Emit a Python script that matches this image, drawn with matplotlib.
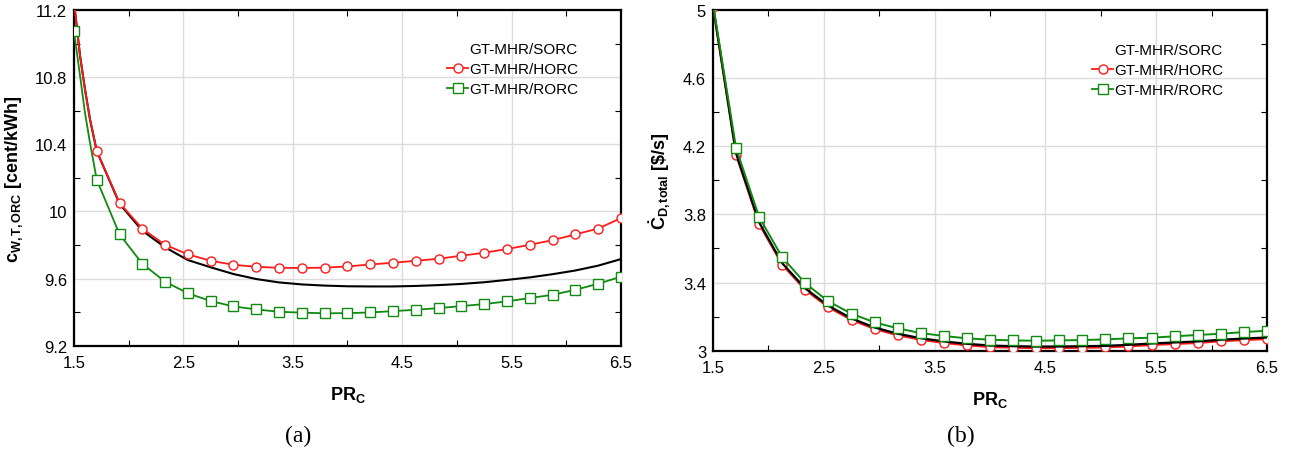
import matplotlib
matplotlib.use("Agg")
import matplotlib.pyplot as plt
from matplotlib.ticker import FixedLocator, FuncFormatter
from matplotlib.lines import Line2D

plt.rcParams['font.family'] = ['Liberation Sans', 'DejaVu Sans']
plt.rcParams['mathtext.fontset'] = 'custom'
plt.rcParams['mathtext.rm'] = 'Liberation Sans'
plt.rcParams['mathtext.bf'] = 'Liberation Sans:bold'
plt.rcParams['mathtext.it'] = 'Liberation Sans:italic'

# ---------------- data ----------------
pr_c = [1.5, 1.708, 1.917, 2.125, 2.333, 2.542, 2.75, 2.958, 3.167, 3.375, 3.583, 3.792,
        4.0, 4.208, 4.417, 4.625, 4.833, 5.042, 5.25, 5.458, 5.667, 5.875, 6.083, 6.292, 6.5]

# extra points read on the steep start of panel (a) curves
pr_c_start = [1.555, 1.6, 1.646]

# panel (a): c_W,T,ORC [cent/kWh]
a_sorc = [11.25, 10.36, 10.045, 9.885, 9.786, 9.71, 9.667, 9.627, 9.597, 9.577, 9.565, 9.558,
          9.554, 9.553, 9.553, 9.556, 9.561, 9.568, 9.578, 9.592, 9.607, 9.626, 9.648, 9.677, 9.716]
a_sorc_start = [10.93, 10.73, 10.55]
a_horc = [11.25, 10.36, 10.05, 9.897, 9.801, 9.744, 9.706, 9.682, 9.670, 9.664, 9.663, 9.665,
          9.672, 9.684, 9.694, 9.706, 9.718, 9.736, 9.754, 9.776, 9.801, 9.829, 9.863, 9.898, 9.96]
a_horc_start = [10.93, 10.73, 10.55]
a_rorc = [11.073, 10.189, 9.863, 9.688, 9.581, 9.512, 9.466, 9.434, 9.416, 9.402, 9.397, 9.393,
          9.394, 9.398, 9.406, 9.414, 9.424, 9.436, 9.448, 9.464, 9.484, 9.503, 9.533, 9.569, 9.611]
a_rorc_start = [10.81, 10.59, 10.41]

# panel (b): C_D,total [$/s]
b_sorc = [5.025, 4.158, 3.752, 3.513, 3.365, 3.263, 3.189, 3.136, 3.099, 3.073, 3.054, 3.040,
          3.030, 3.026, 3.024, 3.024, 3.026, 3.028, 3.034, 3.042, 3.048, 3.054, 3.064, 3.071, 3.077]
b_horc = [5.02, 4.149, 3.742, 3.504, 3.356, 3.254, 3.180, 3.127, 3.090, 3.064, 3.045, 3.031,
          3.021, 3.017, 3.015, 3.015, 3.017, 3.019, 3.025, 3.033, 3.039, 3.045, 3.055, 3.062, 3.068]
b_rorc = [5.035, 4.19, 3.783, 3.548, 3.395, 3.289, 3.217, 3.166, 3.131, 3.103, 3.086, 3.072,
          3.064, 3.060, 3.058, 3.060, 3.062, 3.066, 3.072, 3.076, 3.084, 3.092, 3.099, 3.109, 3.117]

labels = ['GT-MHR/SORC', 'GT-MHR/HORC', 'GT-MHR/RORC']
x_ticks = [1.5, 2.5, 3.5, 4.5, 5.5, 6.5]
x_minor = [2, 3, 4, 5, 6]
a_yticks = [9.2, 9.6, 10.0, 10.4, 10.8, 11.2]
a_yminor = [9.4, 9.8, 10.2, 10.6, 11.0]
b_yticks = [3.0, 3.4, 3.8, 4.2, 4.6, 5.0]
b_yminor = [3.2, 3.6, 4.0, 4.4, 4.8]

RED = '#ff1a1a'
GREEN = '#108a10'

fig = plt.figure(figsize=(12.91, 4.56), dpi=100)
axA = fig.add_axes([0.0573, 0.2397, 0.4237, 0.7362])
axB = fig.add_axes([0.5523, 0.2289, 0.4291, 0.7469])


def merge(xs, ys, xe, ye):
    pts = sorted(list(zip(xs, ys)) + list(zip(xe, ye)))
    return [p[0] for p in pts], [p[1] for p in pts]


def style(ax, ylim, yt, ym):
    ax.set_xlim(1.5, 6.5)
    ax.set_ylim(*ylim)
    ax.xaxis.set_major_locator(FixedLocator(x_ticks))
    ax.xaxis.set_minor_locator(FixedLocator(x_minor))
    ax.yaxis.set_major_locator(FixedLocator(yt))
    ax.yaxis.set_minor_locator(FixedLocator(ym))
    fmt = FuncFormatter(lambda v, p: '%g' % round(v, 3))
    ax.yaxis.set_major_formatter(fmt)
    ax.xaxis.set_major_formatter(fmt)
    ax.grid(True, which='major', color='#dcdcdc', lw=1.0)
    ax.set_axisbelow(True)
    ax.tick_params(which='major', length=0, labelsize=12, pad=5, colors='black')
    ax.tick_params(axis='x', which='major', pad=7)
    ax.tick_params(which='minor', direction='in', length=4, width=0.8,
                   top=True, right=True, bottom=True, left=True)
    for s in ax.spines.values():
        s.set_linewidth(1.6)
        s.set_color('black')


# ---- panel (a)
x, y = merge(pr_c, a_sorc, pr_c_start, a_sorc_start)
axA.plot(x, y, color='black', lw=1.5, zorder=3)
x, y = merge(pr_c, a_horc, pr_c_start, a_horc_start)
axA.plot(x, y, color=RED, lw=1.3, zorder=4)
axA.plot(pr_c, a_horc, ls='none', marker='o', ms=6.5, mfc='white', mec=RED, mew=1.0, zorder=5)
x, y = merge(pr_c, a_rorc, pr_c_start, a_rorc_start)
axA.plot(x, y, color=GREEN, lw=1.3, zorder=4)
axA.plot(pr_c, a_rorc, ls='none', marker='s', ms=6.5, mfc='white', mec=GREEN, mew=1.0, zorder=5)
style(axA, (9.2, 11.2), a_yticks, a_yminor)
axA.set_xlabel(r'$\mathbf{PR}_{\mathbf{C}}$', fontsize=13, labelpad=10)
axA.set_ylabel(r'$\mathbf{c}_{\mathbf{W,T,ORC}}$ [cent/kWh]', fontsize=13, fontweight='bold')
axA.yaxis.set_label_coords(-0.09, 0.5)

# ---- panel (b)
axB.plot(pr_c, b_sorc, color='black', lw=1.6, zorder=4)
axB.plot(pr_c, b_horc, color=RED, lw=1.5, marker='o', ms=6.5, mfc='white', mec=RED, mew=1.0, zorder=3)
axB.plot(pr_c, b_rorc, color=GREEN, lw=1.4, marker='s', ms=6.5, mfc='white', mec=GREEN, mew=1.0, zorder=5)
style(axB, (3.0, 5.0), b_yticks, b_yminor)
axB.set_xlabel(r'$\mathbf{PR}_{\mathbf{C}}$', fontsize=13, labelpad=10)
axB.set_ylabel(r'$\mathbf{\dot{C}}_{\mathbf{D,total}}$ [\$/s]', fontsize=13, fontweight='bold')
axB.yaxis.set_label_coords(-0.073, 0.5)

# ---- legends
for ax, anchor in ((axA, (0.682, 0.905)), (axB, (0.684, 0.903))):
    handles = [Line2D([], [], ls='none', color='black'),
               Line2D([], [], color=RED, lw=1.3, marker='o', ms=6.5, mfc='white', mec=RED),
               Line2D([], [], color=GREEN, lw=1.3, marker='s', ms=6.5, mfc='white', mec=GREEN)]
    ax.legend(handles, labels, loc='upper left', bbox_to_anchor=anchor, frameon=False,
              fontsize=11, handlelength=1.4, handletextpad=0.05, borderpad=0,
              borderaxespad=0, labelspacing=0.4)

fig.text(298 / 1291, 1 - 436 / 456, '(a)', family='Liberation Serif', fontsize=17,
         ha='center', va='center')
fig.text(961 / 1291, 1 - 436 / 456, '(b)', family='Liberation Serif', fontsize=17,
         ha='center', va='center')

fig.savefig('out.png', dpi=100)
